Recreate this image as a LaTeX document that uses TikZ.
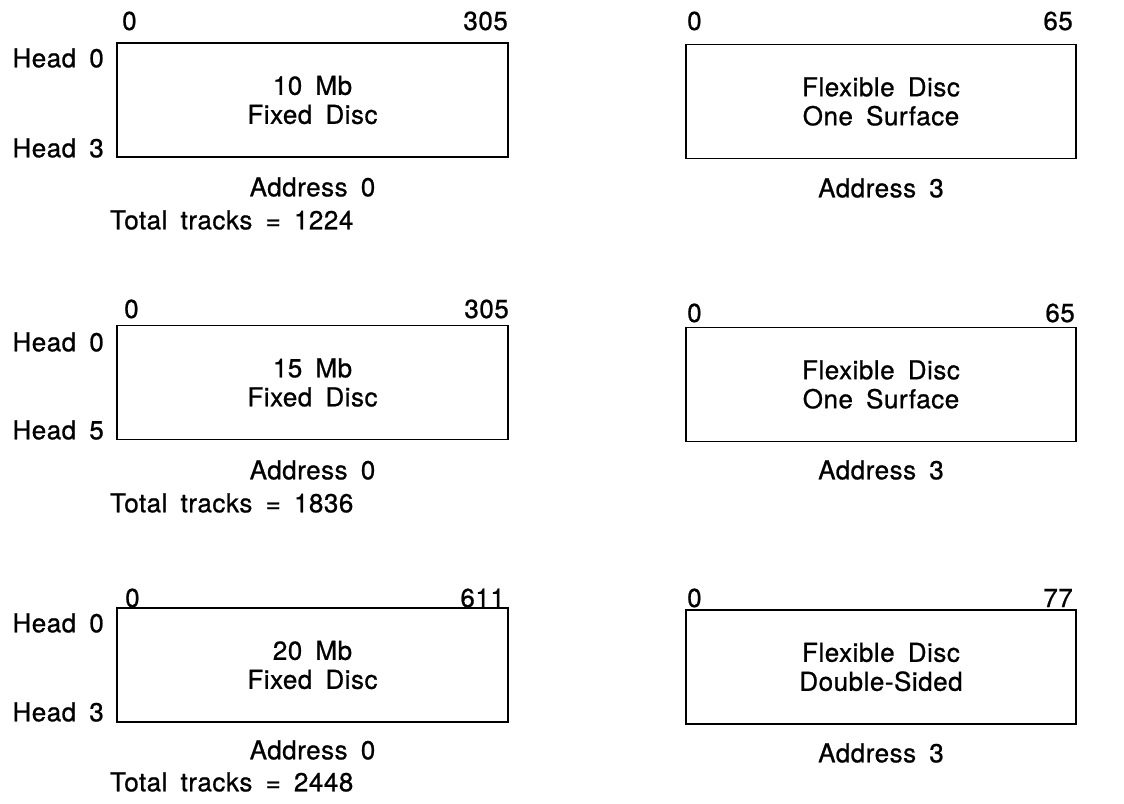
\documentclass[tikz,border=0pt]{standalone}
\usepackage{fontspec}
\setmainfont{TeX Gyre Heros}[LetterSpace=2.0,WordSpace=1.7,FakeBold=0.8]
\begin{document}
\begin{tikzpicture}[x=1pt,y=-1pt,
  every node/.style={font=\fontsize{26}{29}\selectfont, inner sep=0pt},
  disc/.style={draw, line width=1.7pt, minimum height=114pt, align=center},
  ldisc/.style={disc, minimum width=391pt},
  rdisc/.style={disc, minimum width=390pt},
  num/.style={anchor=base},
  head/.style={anchor=east},
  addr/.style={anchor=center},
  total/.style={anchor=west}]
\useasboundingbox (0,0) rectangle (1124,803);

% Row 1
\node[ldisc] (L1) at (312.5,100) {10 Mb\\Fixed Disc};
\node[rdisc] (R1) at (881,101.5) {Flexible Disc\\One Surface};
\node[num, anchor=base west] (L1a) at (122,30) {0};
\node[num, anchor=base east] (L1b) at (508,30) {305};
\node[num, anchor=base west] (R1a) at (687,30) {0};
\node[num, anchor=base east] (R1b) at (1073,30) {65};
\node[head] (L1h0) at (104,58) {Head 0};
\node[head] (L1h1) at (104,148) {Head 3};
\node[addr] (L1ad) at (312.5,187) {Address 0};
\node[addr] (R1ad) at (881,188) {Address 3};
\node[total] (L1t) at (110,220) {Total tracks = 1224};

% Row 2
\node[ldisc] (L2) at (312.5,382.5) {15 Mb\\Fixed Disc};
\node[rdisc] (R2) at (881,384.5) {Flexible Disc\\One Surface};
\node[num, anchor=base west] (L2a) at (124,318) {0};
\node[num, anchor=base east] (L2b) at (509,318) {305};
\node[num, anchor=base west] (R2a) at (687,322) {0};
\node[num, anchor=base east] (R2b) at (1075,322) {65};
\node[head] (L2h0) at (104,342) {Head 0};
\node[head] (L2h1) at (104,430) {Head 5};
\node[addr] (L2ad) at (312.5,470) {Address 0};
\node[addr] (R2ad) at (881,470) {Address 3};
\node[total] (L2t) at (110,503) {Total tracks = 1836};

% Row 3
\node[ldisc] (L3) at (312.5,665) {20 Mb\\Fixed Disc};
\node[rdisc] (R3) at (881,667) {Flexible Disc\\Double-Sided};
\node[num, anchor=base west] (L3a) at (125,607) {0};
\node[num, anchor=base east] (L3b) at (505,607) {611};
\node[num, anchor=base west] (R3a) at (687,607) {0};
\node[num, anchor=base east] (R3b) at (1073,607) {77};
\node[head] (L3h0) at (104,623) {Head 0};
\node[head] (L3h1) at (104,712) {Head 3};
\node[addr] (L3ad) at (312.5,750) {Address 0};
\node[addr] (R3ad) at (881,753) {Address 3};
\node[total] (L3t) at (110,782) {Total tracks = 2448};
\end{tikzpicture}
\end{document}
